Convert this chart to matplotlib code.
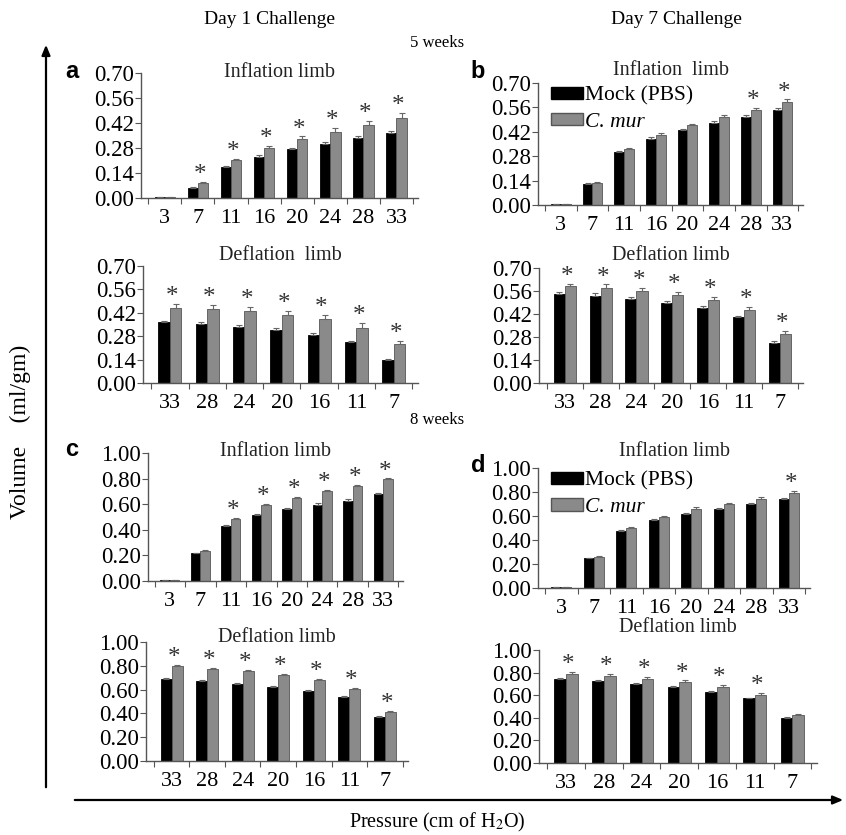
import numpy as np
import matplotlib
matplotlib.use("Agg")
import matplotlib.pyplot as plt
from matplotlib.patches import Patch

plt.rcParams['font.family'] = ['Liberation Serif', 'DejaVu Serif']
plt.rcParams['mathtext.fontset'] = 'stix'

# pressure steps (cm H2O)
inflation_pressures = ["3", "7", "11", "16", "20", "24", "28", "33"]
deflation_pressures = ["33", "28", "24", "20", "16", "11", "7"]

# 5 weeks, day 1 challenge
a_inf_mock = [0.005, 0.058, 0.173, 0.231, 0.274, 0.304, 0.334, 0.366]
a_inf_cmur = [0.005, 0.084, 0.212, 0.280, 0.330, 0.372, 0.411, 0.450]
a_inf_mock_err = [0.002, 0.005, 0.006, 0.008, 0.008, 0.010, 0.012, 0.012]
a_inf_cmur_err = [0.002, 0.005, 0.006, 0.010, 0.015, 0.020, 0.022, 0.025]
a_inf_sig = [False, True, True, True, True, True, True, True]

a_def_mock = [0.362, 0.354, 0.336, 0.316, 0.290, 0.245, 0.139]
a_def_cmur = [0.447, 0.442, 0.428, 0.406, 0.380, 0.332, 0.231]
a_def_mock_err = [0.010, 0.012, 0.012, 0.012, 0.008, 0.006, 0.005]
a_def_cmur_err = [0.025, 0.025, 0.028, 0.025, 0.028, 0.025, 0.022]
a_def_sig = [True, True, True, True, True, True, True]

# 5 weeks, day 7 challenge
b_inf_mock = [0.005, 0.120, 0.302, 0.381, 0.430, 0.470, 0.503, 0.545]
b_inf_cmur = [0.005, 0.126, 0.319, 0.403, 0.459, 0.505, 0.545, 0.591]
b_inf_mock_err = [0.002, 0.004, 0.006, 0.008, 0.008, 0.010, 0.012, 0.012]
b_inf_cmur_err = [0.002, 0.004, 0.006, 0.008, 0.008, 0.010, 0.012, 0.015]
b_inf_sig = [False, False, False, False, False, False, True, True]

b_def_mock = [0.544, 0.532, 0.511, 0.487, 0.457, 0.402, 0.245]
b_def_cmur = [0.590, 0.580, 0.562, 0.536, 0.503, 0.444, 0.296]
b_def_mock_err = [0.010, 0.015, 0.015, 0.012, 0.010, 0.008, 0.012]
b_def_cmur_err = [0.015, 0.020, 0.018, 0.020, 0.020, 0.020, 0.022]
b_def_sig = [True, True, True, True, True, True, True]

# 8 weeks, day 1 challenge
c_inf_mock = [0.005, 0.215, 0.427, 0.513, 0.560, 0.597, 0.628, 0.681]
c_inf_cmur = [0.005, 0.236, 0.487, 0.592, 0.652, 0.702, 0.743, 0.793]
c_inf_mock_err = [0.002, 0.005, 0.008, 0.008, 0.008, 0.010, 0.010, 0.010]
c_inf_cmur_err = [0.002, 0.005, 0.008, 0.008, 0.008, 0.008, 0.008, 0.008]
c_inf_sig = [False, False, True, True, True, True, True, True]

c_def_mock = [0.686, 0.672, 0.650, 0.622, 0.588, 0.535, 0.373]
c_def_cmur = [0.796, 0.776, 0.756, 0.723, 0.681, 0.608, 0.412]
c_def_mock_err = [0.010, 0.008, 0.008, 0.008, 0.010, 0.008, 0.008]
c_def_cmur_err = [0.008, 0.008, 0.008, 0.008, 0.008, 0.008, 0.008]
c_def_sig = [True, True, True, True, True, True, True]

# 8 weeks, day 7 challenge
d_inf_mock = [0.005, 0.247, 0.478, 0.564, 0.617, 0.658, 0.697, 0.742]
d_inf_cmur = [0.005, 0.256, 0.497, 0.592, 0.656, 0.697, 0.742, 0.792]
d_inf_mock_err = [0.002, 0.006, 0.008, 0.008, 0.008, 0.010, 0.010, 0.008]
d_inf_cmur_err = [0.002, 0.008, 0.012, 0.012, 0.015, 0.015, 0.015, 0.018]
d_inf_sig = [False, False, False, False, False, False, False, True]

d_def_mock = [0.740, 0.725, 0.698, 0.669, 0.630, 0.571, 0.402]
d_def_cmur = [0.787, 0.769, 0.743, 0.713, 0.672, 0.604, 0.423]
d_def_mock_err = [0.008, 0.008, 0.008, 0.008, 0.008, 0.008, 0.005]
d_def_cmur_err = [0.020, 0.020, 0.018, 0.018, 0.020, 0.015, 0.010]
d_def_sig = [True, True, True, True, True, True, False]

W, H = 846, 835
MOCK_COLOR = "#000000"
CMUR_COLOR = "#8a8a8a"
AXIS_COLOR = "#555555"


def px_rect(left, top, right, bottom):
    """Converts a pixel box (origin top left) into a figure-fraction rect."""
    return [left / W, 1 - bottom / H, (right - left) / W, (bottom - top) / H]


def plot_panel(fig, box, labels, mock, cmur, mock_err, cmur_err, sig,
               title, title_gap, yticks, legend=False):
    """
    Draws one grouped bar panel (mock vs C. muridarum) with error bars and
    significance stars above the infected bars.

    box is (left, top, right, bottom) in pixels, title_gap is how many pixels
    the panel title sits above the top of the y axis.
    """
    ax = fig.add_axes(px_rect(*box))
    n = len(labels)
    x = np.arange(n)
    bw = 0.31

    ax.bar(x - bw / 2, mock, bw, color=MOCK_COLOR, edgecolor=MOCK_COLOR,
           linewidth=0.6, zorder=2)
    ax.bar(x + bw / 2, cmur, bw, color=CMUR_COLOR, edgecolor="#555555",
           linewidth=0.6, zorder=2)
    ax.errorbar(x - bw / 2, mock, yerr=[np.zeros(n), mock_err], fmt="none",
                ecolor="#666666", elinewidth=0.8, capsize=2.5, capthick=0.8, zorder=3)
    ax.errorbar(x + bw / 2, cmur, yerr=[np.zeros(n), cmur_err], fmt="none",
                ecolor="#666666", elinewidth=0.8, capsize=2.5, capthick=0.8, zorder=3)

    for i in range(n):
        if sig[i]:
            ax.annotate("*", (x[i] + 0.06, cmur[i] + cmur_err[i]),
                        xytext=(0, -3), textcoords="offset points",
                        ha="center", va="bottom", fontsize=18, color="#333333")

    ax.set_xlim(-0.72, n - 0.35)
    ax.set_ylim(0, yticks[-1])
    ax.set_yticks(yticks)
    ax.set_yticklabels([f"{t:.2f}" for t in yticks], fontsize=16.5)
    ax.set_xticks(x)
    ax.set_xticklabels(labels, fontsize=16)
    ax.set_xticks(np.arange(n + 1) - 0.5, minor=True)
    ax.tick_params(axis="x", which="major", length=0, pad=8)
    ax.tick_params(axis="x", which="minor", length=4, width=0.8,
                   color=AXIS_COLOR, direction="out")
    ax.tick_params(axis="y", length=4, width=0.8, color=AXIS_COLOR, pad=1)

    for side in ["top", "right"]:
        ax.spines[side].set_visible(False)
    for side in ["left", "bottom"]:
        ax.spines[side].set_color(AXIS_COLOR)
        ax.spines[side].set_linewidth(1.0)

    height_px = box[3] - box[1]
    ax.text(0.5, 1 + title_gap / height_px, title, transform=ax.transAxes,
            fontsize=14.5, ha="center", va="center", color="#222222")

    if legend:
        handles = [Patch(facecolor=MOCK_COLOR, edgecolor=MOCK_COLOR, label="Mock (PBS)"),
                   Patch(facecolor=CMUR_COLOR, edgecolor="#555555", label="C. mur")]
        leg = ax.legend(handles=handles, loc="upper left", bbox_to_anchor=(0.0, 1.08),
                        frameon=False, fontsize=15.5, handlelength=1.5,
                        handleheight=0.5, handletextpad=0.1, labelspacing=0.35,
                        borderaxespad=0.2)
        leg.get_texts()[1].set_fontstyle("italic")
    return ax


fig = plt.figure(figsize=(W / 100, H / 100), dpi=100)

small_ticks = [0.00, 0.14, 0.28, 0.42, 0.56, 0.70]
big_ticks = [0.00, 0.20, 0.40, 0.60, 0.80, 1.00]

plot_panel(fig, (141, 73, 418, 198), inflation_pressures, a_inf_mock, a_inf_cmur,
           a_inf_mock_err, a_inf_cmur_err, a_inf_sig, "Inflation limb", 1, small_ticks)
plot_panel(fig, (143, 266, 418, 383), deflation_pressures, a_def_mock, a_def_cmur,
           a_def_mock_err, a_def_cmur_err, a_def_sig, "Deflation  limb", 11, small_ticks)
plot_panel(fig, (538, 83, 803, 205), inflation_pressures, b_inf_mock, b_inf_cmur,
           b_inf_mock_err, b_inf_cmur_err, b_inf_sig, "Inflation  limb", 13, small_ticks,
           legend=True)
plot_panel(fig, (539, 268, 803, 383), deflation_pressures, b_def_mock, b_def_cmur,
           b_def_mock_err, b_def_cmur_err, b_def_sig, "Deflation limb", 13, small_ticks)
plot_panel(fig, (148, 453, 403, 581), inflation_pressures, c_inf_mock, c_inf_cmur,
           c_inf_mock_err, c_inf_cmur_err, c_inf_sig, "Inflation limb", 1, big_ticks)
plot_panel(fig, (146, 642, 408, 761), deflation_pressures, c_def_mock, c_def_cmur,
           c_def_mock_err, c_def_cmur_err, c_def_sig, "Deflation limb", 4, big_ticks)
plot_panel(fig, (538, 468, 810, 588), inflation_pressures, d_inf_mock, d_inf_cmur,
           d_inf_mock_err, d_inf_cmur_err, d_inf_sig, "Inflation limb", 16, big_ticks,
           legend=True)
plot_panel(fig, (539, 650, 817, 763), deflation_pressures, d_def_mock, d_def_cmur,
           d_def_mock_err, d_def_cmur_err, d_def_sig, "Deflation limb", 23, big_ticks)

# overlay in pixel units for the shared labels and arrows
ov = fig.add_axes([0, 0, 1, 1], zorder=-1)
ov.set_xlim(0, W)
ov.set_ylim(H, 0)
ov.axis("off")

ov.annotate("", xy=(46, 42), xytext=(46, 790),
            arrowprops=dict(arrowstyle="-|>,head_length=0.6,head_width=0.25",
                            color="black", lw=1.6))
ov.annotate("", xy=(846, 800), xytext=(72, 800),
            arrowprops=dict(arrowstyle="-|>,head_length=0.6,head_width=0.25",
                            color="black", lw=1.6))

ov.text(270, 20, "Day 1 Challenge", fontsize=14, ha="center", va="center")
ov.text(676, 20, "Day 7 Challenge", fontsize=14, ha="center", va="center")
ov.text(437, 43, "5 weeks", fontsize=12, ha="center", va="center")
ov.text(437, 420, "8 weeks", fontsize=12, ha="center", va="center")
ov.text(20, 432, "Volume    (ml/gm)", fontsize=17, ha="center", va="center", rotation=90)
ov.text(437, 822, "Pressure (cm of H$_2$O)", fontsize=14.5, ha="center", va="center")

for letter, (lx, ly) in {"a": (72, 72), "b": (478, 72), "c": (72, 450), "d": (478, 466)}.items():
    ov.text(lx, ly, letter, fontsize=17, fontweight="bold", ha="center", va="center",
            family="Liberation Sans")

fig.savefig("out.png", dpi=100)
